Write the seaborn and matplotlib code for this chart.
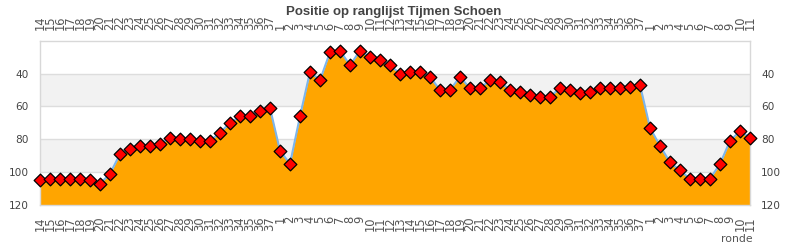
import matplotlib
matplotlib.use("Agg")
import matplotlib.pyplot as plt
import seaborn as sns
import pandas as pd
import numpy as np

# Round labels (three seasons)
season1_rounds = [str(r) for r in range(14, 38)]
season2_rounds = [str(r) for r in range(1, 38)]
season3_rounds = [str(r) for r in range(1, 12)]
round_labels = season1_rounds + season2_rounds + season3_rounds

# Ranking positions
season1_pos = [105, 104, 104, 104, 104, 105, 107, 101, 89, 86, 84, 84, 83, 79,
               80, 80, 81, 81, 76, 70, 66, 66, 63, 61]
season2_pos = [87, 95, 66, 39, 44, 27, 26, 35, 26, 30, 32, 35, 40, 39, 39, 42,
               50, 50, 42, 49, 49, 44, 45, 50, 51, 53, 54, 54, 49, 50, 52, 51,
               49, 49, 49, 48, 47]
season3_pos = [73, 84, 94, 99, 104, 104, 104, 95, 81, 75, 79]
positions = season1_pos + season2_pos + season3_pos

df = pd.DataFrame({"idx": np.arange(len(positions)), "pos": positions})

sns.set_style("white")
plt.rcParams['font.family'] = ['DejaVu Sans']

fig = plt.figure(figsize=(7.9, 2.5), dpi=100)
ax = fig.add_axes([40/790, 1-205/250, 710/790, (205-40.7)/250])

# background bands
for lo, hi in [(40, 60), (80, 100)]:
    ax.axhspan(lo, hi, color='#f2f2f2', zorder=0, lw=0)
for g in [40, 60, 80, 100]:
    ax.axhline(g, color='#dddddd', lw=1, zorder=0.5)

ax.fill_between(df["idx"], df["pos"], 120, color='#ffa500', zorder=1, lw=0)
sns.lineplot(data=df, x="idx", y="pos", ax=ax, color='#7cb5ec', lw=1.5, zorder=2)
sns.scatterplot(data=df, x="idx", y="pos", ax=ax, marker='D', s=42,
                color='#ff0000', edgecolor='black', linewidth=0.9, zorder=3,
                clip_on=False)

ax.set_xlim(0, len(positions) - 1)
ax.set_ylim(120, 20)
ax.set_xlabel("")
ax.set_ylabel("")
ax.set_xticks(np.arange(len(positions)))
ax.set_xticklabels(round_labels, rotation=90, fontsize=8.3, color='#555555')
ax.set_yticks([40, 60, 80, 100, 120])
ax.set_yticklabels(["40", "60", "80", "100", "120"], fontsize=7.6, color='#444444')
ax.tick_params(axis='x', length=0, pad=8, labeltop=True, labelbottom=True)
ax.tick_params(axis='y', length=0, pad=8, labelleft=True, labelright=True)
for s in ['left', 'top', 'right', 'bottom']:
    ax.spines[s].set_color('#d8d8d8')
    ax.spines[s].set_linewidth(1)
    ax.spines[s].set_visible(True)

fig.text(394/790, 1-12/250, "Positie op ranglijst Tijmen Schoen", ha='center',
         va='center', fontsize=9.5, fontweight='bold', color='#444444',
         family=['Liberation Sans', 'DejaVu Sans'])
fig.text(737/790, 1-239/250, "ronde", ha='center', va='center', fontsize=7.8,
         color='#555555')

fig.savefig("out.png", dpi=100)
